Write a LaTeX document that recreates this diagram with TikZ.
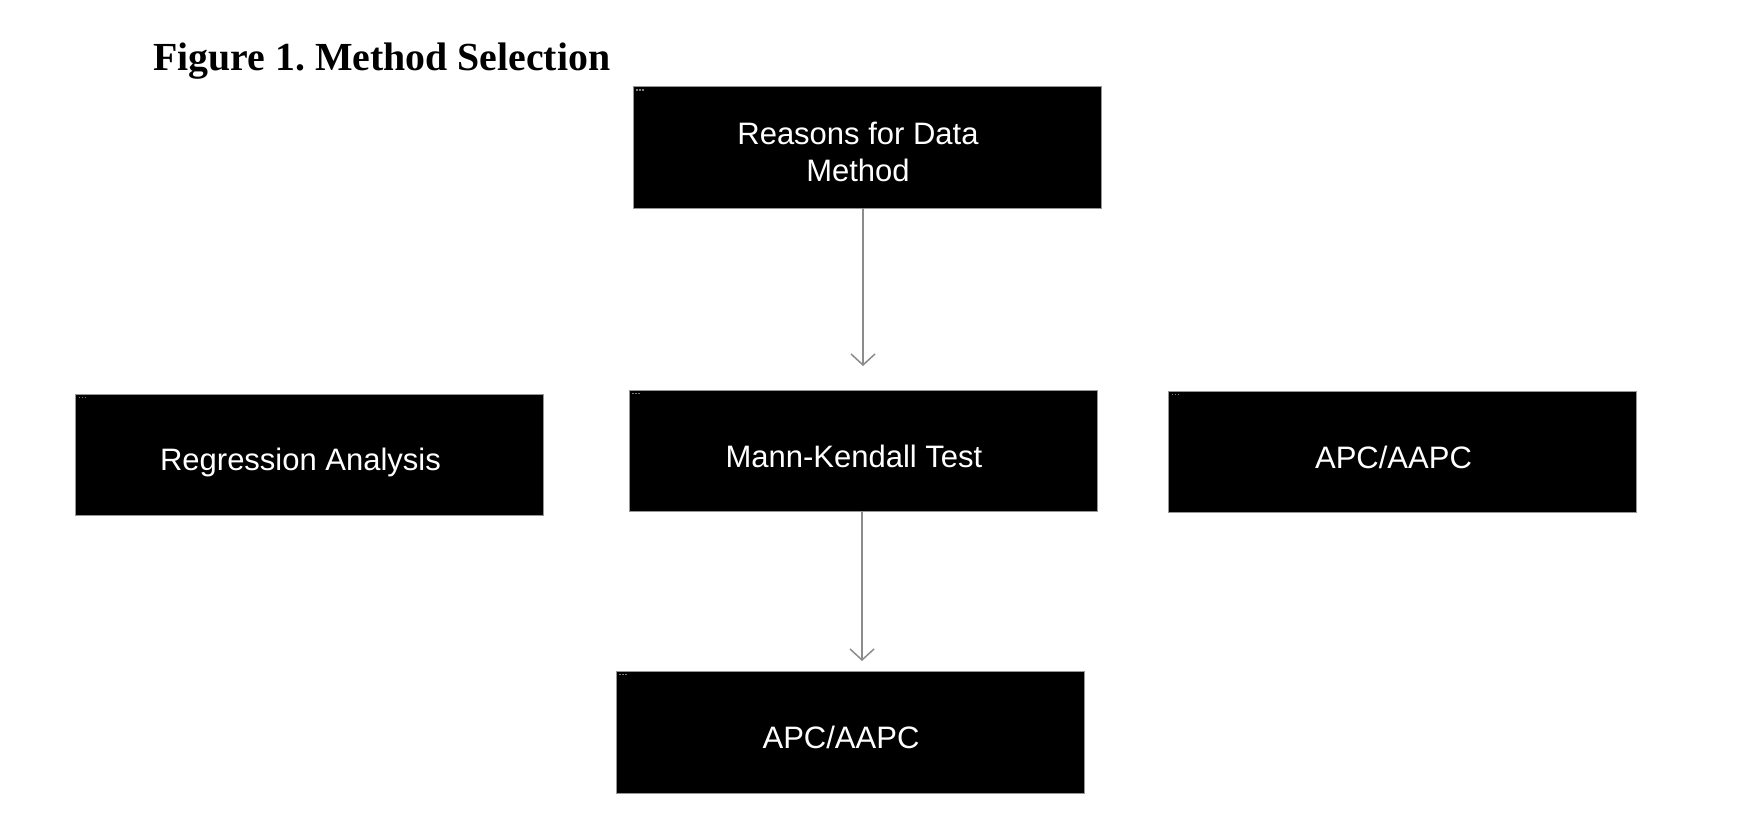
\documentclass[tikz,border=0pt]{standalone}
\usepackage{fontspec}
\setmainfont{Liberation Sans}
\newfontfamily\titlefont{Liberation Serif}
\usetikzlibrary{arrows.meta,calc}
\definecolor{arrowgray}{RGB}{140,140,140}
\definecolor{edgegray}{RGB}{150,150,150}
\definecolor{dotgray}{RGB}{125,125,125}
\begin{document}
\frenchspacing
\begin{tikzpicture}[x=0.5pt,y=-0.5pt,
  box/.style={draw=edgegray, line width=0.5pt, fill=black, minimum width=234pt, minimum height=60.5pt, inner sep=0pt, outer sep=0pt},
  boxtext/.style={text=white, font=\fontsize{15.5pt}{18.5pt}\selectfont, inner sep=0pt},
  conn/.style={draw=arrowgray, line width=0.75pt, -{Straight Barb[length=5.5pt,width=12pt]}},
  titletext/.style={font=\titlefont\bfseries\fontsize{19.9pt}{24pt}\selectfont, inner sep=0pt, anchor=base west},
]
\fill[white] (0,0) rectangle (1756,824);
\useasboundingbox (0,0) rectangle (1756,824);

\node[titletext] (title) at (153,71) {Figure 1. Method Selection};

% boxes
\node[box] (b1)   at (867,147.5) {};
\node[box] (bmk)  at (863,450.5) {};
\node[box] (breg) at (309.5,454.5) {};
\node[box] (bapc) at (1402.5,451.5) {};
\node[box, minimum height=61pt] (bbot) at (850,732) {};

% small marks in the top-left corners
\foreach \b in {b1,bmk,breg,bapc,bbot}{
  \foreach \dx in {3,6,9}{
    \fill[dotgray] ($(\b.north west)+(\dx,2.5)$) rectangle +(1.8,1.8);
  }
}

% texts
\node[boxtext, align=center] (t1) at ($(b1.center)+(-9,4.7)$) {Reasons for Data\\Method};
\node[boxtext, anchor=base] (tmk)  at ($(bmk.center)+(-9,16.5)$) {Mann-Kendall Test};
\node[boxtext, anchor=base] (treg) at ($(breg.center)+(-9,16)$) {Regression Analysis};
\node[boxtext, anchor=base] (tapc) at ($(bapc.center)+(-9,16.5)$) {APC/AAPC};
\node[boxtext, anchor=base] (tbot) at ($(bbot.center)+(-9,16.3)$) {APC/AAPC};

% connectors
\coordinate (tip1) at (863,366);
\coordinate (tip2) at (862,661);
\draw[conn] (b1.south -| tip1) -- (tip1);
\draw[conn] (bmk.south -| tip2) -- (tip2);
\end{tikzpicture}
\end{document}
